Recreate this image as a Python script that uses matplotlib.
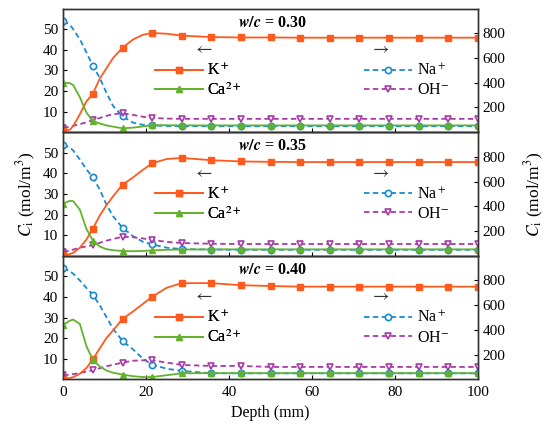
import numpy as np
import matplotlib
matplotlib.use('Agg')
import matplotlib.pyplot as plt

plt.rcParams['font.family'] = ['Liberation Serif', 'DejaVu Serif']
plt.rcParams['mathtext.fontset'] = 'stix'
plt.rcParams['font.size'] = 10

# depth grid (mm); markers only at every 100/14 mm
depth = [0, 1.6, 2.4, 4, 5.6, 7.14, 8.8, 10.4, 12, 14.29, 16.8, 19.2, 21.43, 25,
         28.57, 35.71, 42.86, 50, 57.14, 64.29, 71.43, 78.57, 85.71, 92.86, 100]
mark_idx = [0, 5, 9, 12, 14, 15, 16, 17, 18, 19, 20, 21, 22, 23, 24]

wc_labels = ['0.30', '0.35', '0.40']

# left axis (mol/m3)
K = [
    [0.8, 1.2, 3, 8.7, 15, 18.7, 26, 31, 36, 41, 45, 47.3, 48.2, 47.8,
     46.9, 46.2, 46.0, 46.0, 45.9, 45.9, 45.9, 45.9, 45.9, 45.9, 45.9],
    [0.3, 0.8, 1.4, 3.9, 7.9, 13.2, 19.5, 24.5, 28.8, 34.5, 38, 41.7, 44.9, 47,
     47.5, 46.4, 45.8, 45.6, 45.5, 45.5, 45.5, 45.5, 45.5, 45.5, 45.5],
    [0.3, 0.6, 1.1, 2.7, 5.5, 9.7, 15, 20, 23.7, 29.3, 32.9, 36.6, 40.1, 44.5,
     46.7, 46.7, 45.7, 45.3, 45.0, 45.0, 45.0, 45.0, 45.0, 45.0, 45.0],
]
Ca = [
    [24, 23.8, 22.9, 17, 9.5, 5.5, 4.2, 3.3, 2.7, 1.9, 2.2, 2.8, 3.4, 3.4,
     3.3, 3.3, 3.3, 3.3, 3.3, 3.3, 3.3, 3.3, 3.3, 3.3, 3.3],
    [25.3, 26.7, 26.5, 22.4, 13, 7.4, 4.5, 3.2, 2.7, 2.3, 2.2, 2.3, 2.6, 2.9,
     3.0, 3.1, 3.1, 3.1, 3.1, 3.1, 3.1, 3.1, 3.1, 3.1, 3.1],
    [26.4, 28.5, 29.0, 26.9, 16, 9.5, 6.2, 4.3, 3.2, 2.3, 1.5, 1.1, 1.1, 2.0,
     2.9, 3.0, 3.0, 3.0, 3.0, 3.0, 3.0, 3.0, 3.0, 3.0, 3.0],
]
# right axis (mol/m3)
Na = [
    [900, 870, 833, 752, 644, 536, 440, 320, 213, 128, 78, 59, 55, 50,
     48, 48, 48, 48, 48, 48, 48, 48, 48, 48, 48],
    [900, 875, 852, 779, 698, 636, 536, 415, 321, 226, 159, 113, 92, 65,
     54, 50, 48, 48, 48, 48, 48, 48, 48, 48, 48],
    [900, 875, 854, 800, 739, 685, 598, 504, 410, 310, 243, 167, 119, 85,
     68, 49, 48, 48, 48, 48, 48, 48, 48, 48, 48],
]
OH = [
    [35, 45, 52, 65, 80, 97, 115, 132, 145, 154, 140, 125, 115, 110,
     108, 108, 108, 108, 108, 108, 108, 108, 108, 108, 108],
    [32, 42, 50, 65, 76, 86, 105, 122, 135, 154, 150, 140, 128, 112,
     103, 97, 95, 95, 95, 95, 95, 95, 95, 95, 95],
    [32, 38, 42, 51, 62, 73, 90, 105, 118, 135, 150, 154, 154, 135,
     116, 108, 108, 100, 100, 100, 100, 100, 100, 100, 100],
]

c_K = '#ff5a1e'
c_Ca = '#62b22c'
c_Na = '#1a8ad0'
c_OH = '#a83aa8'

fig, axes = plt.subplots(3, 1, figsize=(5.5, 4.32), dpi=100, sharex=True)
fig.subplots_adjust(left=0.115, right=0.869, top=0.980, bottom=0.122, hspace=0)

for i, ax in enumerate(axes):
    ax2 = ax.twinx()
    lk, = ax.plot(depth, K[i], '-', color=c_K, lw=1.3, marker='s', ms=4.5,
                  markevery=mark_idx, label='K$^+$')
    lc, = ax.plot(depth, Ca[i], '-', color=c_Ca, lw=1.3, marker='^', ms=5,
                  markevery=mark_idx, label='Ca$^{2+}$')
    ln, = ax2.plot(depth, Na[i], '--', color=c_Na, lw=1.3, marker='o', ms=4.5,
                   mfc='white', mew=1.2, markevery=mark_idx, dashes=(3.0, 1.9),
                   label='Na$^+$')
    lo, = ax2.plot(depth, OH[i], '--', color=c_OH, lw=1.3, marker='v', ms=5,
                   mfc='white', mew=1.2, markevery=mark_idx, dashes=(3.0, 1.9),
                   label='OH$^{-}$')
    ax.set_zorder(ax2.get_zorder() + 1)
    ax.patch.set_visible(False)

    ax.set_xlim(0, 100)
    ax.set_ylim(0, 60)
    ax2.set_ylim(0, 1000)
    ax.set_yticks([10, 20, 30, 40, 50])
    ax2.set_yticks([200, 400, 600, 800])
    ax.set_xticks([0, 20, 40, 60, 80, 100])
    ax.tick_params(direction='in', labelsize=11, length=3, top=False)
    ax2.tick_params(direction='in', labelsize=11, length=3)
    for a in (ax, ax2):
        for s in a.spines.values():
            s.set_color('#333333')
            s.set_linewidth(1.0)

    ax.text(0.505, 0.885, '$\\boldsymbol{w/c}$ = ' + wc_labels[i], transform=ax.transAxes,
            ha='center', va='center', fontsize=11.5, fontweight='bold')
    ax.text(0.337, 0.675, '$\\leftarrow$', transform=ax.transAxes,
            ha='center', va='center', fontsize=13, color='#333333')
    ax.text(0.763, 0.675, '$\\rightarrow$', transform=ax.transAxes,
            ha='center', va='center', fontsize=13, color='#333333')

    leg1 = ax.legend(handles=[lk, lc], loc='upper left', bbox_to_anchor=(0.205, 0.61),
                     frameon=False, fontsize=11.5, handlelength=3.0,
                     handletextpad=0.3, labelspacing=0.2, borderaxespad=0)
    ax.add_artist(leg1)
    ax2.legend(handles=[ln, lo], loc='upper left', bbox_to_anchor=(0.710, 0.61),
               frameon=False, fontsize=11.5, handlelength=3.0,
               handletextpad=0.3, labelspacing=0.2, borderaxespad=0)

    if i == 1:
        ax.set_ylabel('$C_{\\mathrm{i}}$ (mol/m$^3$)', fontsize=12.5, labelpad=4)
        ax2.set_ylabel('$C_{\\mathrm{i}}$ (mol/m$^3$)', fontsize=12.5, labelpad=12)

axes[-1].set_xlabel('Depth (mm)', fontsize=11.5)
axes[-1].tick_params(axis='x', pad=5)

fig.savefig('out.png', dpi=100)
